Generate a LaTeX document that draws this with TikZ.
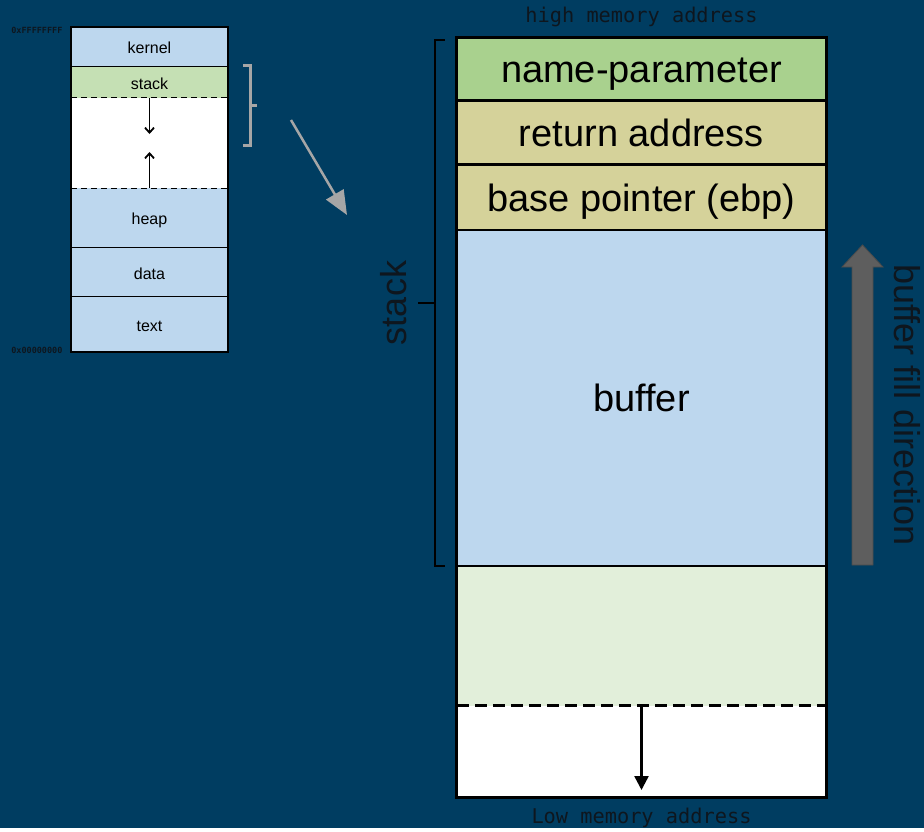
\documentclass[tikz,border=0pt]{standalone}
\usepackage{fontspec}
\setmainfont{Liberation Sans}
\newfontfamily\addrfont{DejaVu Sans Mono}
\usetikzlibrary{arrows.meta}

\definecolor{bgblue}{HTML}{003D61}
\definecolor{cellblue}{HTML}{BDD7EE}
\definecolor{stackgreen}{HTML}{C5E0B4}
\definecolor{paramgreen}{HTML}{A9D18E}
\definecolor{khaki}{HTML}{D5D29A}
\definecolor{freegreen}{HTML}{E2EFDA}
\definecolor{bracegrey}{HTML}{A6A6A6}
\definecolor{fillgrey}{HTML}{5E5E5E}
\definecolor{addrtext}{HTML}{0E161E}

\begin{document}
\begin{tikzpicture}[x=1pt, y=-1pt,
	cell/.style={fill=cellblue, inner sep=0pt, minimum width=157pt, text height=13pt, text depth=0pt, font=\fontsize{16}{18}\selectfont},
	bigcell/.style={fill=cellblue, inner sep=0pt, minimum width=369pt, text height=27pt, text depth=0pt, font=\fontsize{38}{40}\selectfont},
	addr/.style={text=addrtext, font=\addrfont\fontsize{20.3}{21}\selectfont},
	tinyaddr/.style={text=addrtext, font=\addrfont\bfseries\fontsize{8.5}{9}\selectfont},
	sidelabel/.style={text=addrtext, font=\fontsize{36}{38}\selectfont}]
	\fill[bgblue] (0,0) rectangle (924,828);
	% process memory layout
	\node[cell, minimum height=40pt] (kernel) at (149.5,47) {kernel};
	\node[cell, fill=stackgreen, minimum height=31pt] (stack) at (149.5,82.5) {stack};
	\node[cell, fill=white, minimum height=90pt] (gap) at (149.5,143) {};
	\node[cell, minimum height=60pt] (heap) at (149.5,218) {heap};
	\node[cell, minimum height=49pt] (data) at (149.5,272.5) {data};
	\node[cell, minimum height=55pt] (text) at (149.5,324.5) {text};
	\draw[line width=1.5pt] (kernel.north west) rectangle (text.south east);
	\draw[line width=1.2pt] (stack.north west) -- (stack.north east) (data.north west) -- (data.north east) (text.north west) -- (text.north east);
	\draw[line width=1.3pt, dash pattern=on 6pt off 4pt] (gap.north west) -- (gap.north east) (gap.south west) -- (gap.south east);
	\coordinate (growdown) at (149.5,134);
	\coordinate (growup) at (149.5,152);
	\draw[line width=1.8pt, -{Straight Barb[length=5pt,width=9pt]}] (gap.north) -- (growdown);
	\draw[line width=1.8pt, -{Straight Barb[length=5pt,width=9pt]}] (gap.south) -- (growup);
	\node[tinyaddr, anchor=east] (hiaddr) at (66,30) {0xFFFFFFFF};
	\node[tinyaddr, anchor=east] (loaddr) at (66,350) {0x00000000};
	% zoom into the stack
	\draw[bracegrey, line width=3pt] (243,66) -- (250,66) -- (250,145) -- (243,145) (250,105) -- (257,105);
	\coordinate (zoomfrom) at (291,120);
	\coordinate (zoomto) at (347,215);
	\draw[bracegrey, line width=2.5pt, -{Triangle[length=24pt,width=20pt]}] (zoomfrom) -- (zoomto);
	% stack frame
	\node[bigcell, fill=paramgreen, minimum height=63pt] (param) at (641.5,69.5) {name-parameter};
	\node[bigcell, fill=khaki, minimum height=64pt] (ret) at (641.5,133) {return address};
	\node[bigcell, fill=khaki, minimum height=65pt] (ebp) at (641.5,197.5) {base pointer (ebp)};
	\node[bigcell, minimum height=336pt] (buffer) at (641.5,398) {buffer};
	\node[bigcell, fill=freegreen, minimum height=140pt] (free) at (641.5,636) {};
	\node[bigcell, fill=white, minimum height=91pt] (below) at (641.5,751.5) {};
	\draw[line width=3pt] (param.north west) rectangle (below.south east);
	\draw[line width=3pt] (ret.north west) -- (ret.north east) (ebp.north west) -- (ebp.north east);
	\draw[line width=2pt] (buffer.north west) -- (buffer.north east);
	\draw[line width=1.5pt] (free.north west) -- (free.north east);
	\draw[line width=3pt, dash pattern=on 12pt off 6pt] (below.north west) -- (below.north east);
	\coordinate (bottomtip) at (641.5,790);
	\draw[line width=2.5pt, -{Triangle[length=14pt,width=14pt]}] (below.north) -- (bottomtip);
	\node[addr] (highaddr) at (641.5,17) {high memory address};
	\node[addr] (lowaddr) at (641.5,818) {Low memory address};
	% stack brace
	\draw[line width=1.5pt] (445,40) -- (435,40) -- (435,566) -- (445,566) (435,303) -- (418,303);
	\node[sidelabel, rotate=90] (stacklbl) at (394,303) {stack};
	% fill direction
	\draw[fill=fillgrey, draw=black!70, line width=0.8pt] (852,565) -- (852,267) -- (842,267) -- (862.5,245) -- (883,267) -- (873,267) -- (873,565) -- cycle;
	\node[sidelabel, rotate=-90] (filllbl) at (907,405) {buffer fill direction};
\end{tikzpicture}
\end{document}
